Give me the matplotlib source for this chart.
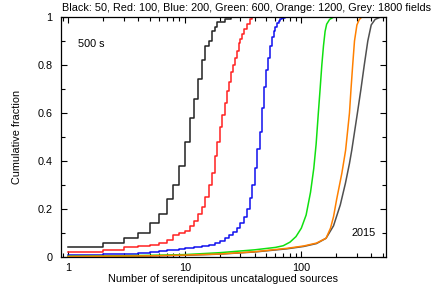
import matplotlib
matplotlib.use('Agg')
from matplotlib import pyplot as plt
from matplotlib.ticker import FixedLocator, LogLocator, NullFormatter

plt.rcParams['font.family'] = ['Liberation Sans', 'DejaVu Sans']

# cumulative fraction vs number of serendipitous sources
black_n = [1, 2, 3, 4, 5, 6, 7, 8, 9, 10, 11, 12, 13, 14, 15, 16, 17, 18, 19, 22, 25]
black_f = [0.04, 0.06, 0.08, 0.10, 0.14, 0.18, 0.24, 0.30, 0.38, 0.48, 0.58, 0.66,
           0.74, 0.82, 0.88, 0.90, 0.94, 0.96, 0.98, 0.99, 1.0]

red_n = [1, 2, 3, 4, 5, 6, 7, 8, 9, 10, 11, 12, 13, 14, 15, 16, 17, 18, 19, 20,
         21, 22, 23, 24, 25, 26, 27, 28, 29, 30, 31, 32, 34, 36, 38]
red_f = [0.02, 0.03, 0.04, 0.045, 0.05, 0.06, 0.07, 0.09, 0.10, 0.11, 0.13, 0.15,
         0.18, 0.21, 0.25, 0.30, 0.35, 0.42, 0.48, 0.54, 0.59, 0.64, 0.69, 0.73,
         0.77, 0.80, 0.83, 0.86, 0.89, 0.91, 0.93, 0.95, 0.97, 0.99, 1.0]

blue_n = [1, 2, 3, 4, 5, 6, 7, 8, 9, 10, 12, 14, 16, 18, 20, 22, 24, 26, 28, 30,
          32, 34, 36, 38, 40, 42, 44, 46, 48, 50, 52, 54, 56, 58, 60, 62, 64, 66, 68, 72]
blue_f = [0.010, 0.012, 0.014, 0.018, 0.022, 0.025, 0.028, 0.030, 0.033, 0.036,
          0.040, 0.045, 0.052, 0.060, 0.068, 0.080, 0.092, 0.105, 0.122, 0.140,
          0.165, 0.20, 0.245, 0.30, 0.37, 0.45, 0.52, 0.62, 0.71, 0.78, 0.83,
          0.88, 0.915, 0.94, 0.96, 0.975, 0.985, 0.992, 0.997, 1.0]

green_n = [1, 2, 5, 10, 20, 40, 60, 70, 80, 90, 100, 110, 120, 128, 134, 140, 145,
           150, 155, 160, 165, 175, 190]
green_f = [0.003, 0.004, 0.007, 0.010, 0.018, 0.030, 0.040, 0.047, 0.062, 0.085,
           0.12, 0.175, 0.27, 0.37, 0.47, 0.60, 0.70, 0.80, 0.88, 0.94, 0.97, 0.99, 1.0]

orange_n = [1, 5, 10, 20, 40, 75, 105, 135, 163, 178, 189, 201, 223, 240, 259,
            267, 276, 286, 300, 315, 331]
orange_f = [0.002, 0.005, 0.008, 0.0125, 0.022, 0.036, 0.046, 0.058, 0.078, 0.12,
            0.168, 0.24, 0.35, 0.445, 0.60, 0.70, 0.80, 0.90, 0.967, 0.99, 1.0]

grey_n = [1, 5, 10, 20, 40, 75, 105, 135, 163, 189, 216, 239, 259, 271, 303, 325,
          347, 372, 398, 430, 480]
grey_f = [0.002, 0.004, 0.007, 0.012, 0.021, 0.034, 0.044, 0.056, 0.078, 0.13,
          0.217, 0.307, 0.39, 0.445, 0.60, 0.70, 0.80, 0.90, 0.967, 0.99, 1.0]

title = 'Black: 50, Red: 100, Blue: 200, Green: 600, Orange: 1200, Grey: 1800 fields'
fs = 7.8

fig = plt.figure(figsize=(4.42, 2.85), dpi=100)
ax = fig.add_axes([61/442, 28/285, 325/442, 240/285])

lw = 1.1
ax.step(black_n, black_f, where='post', color='#222222', lw=lw)
ax.step(red_n, red_f, where='post', color='#ff2020', lw=lw)
ax.step(blue_n, blue_f, where='post', color='#1010ee', lw=lw)
ax.plot(grey_n, grey_f, color='#505050', lw=lw)
ax.plot(green_n, green_f, color='#10e010', lw=lw)
ax.plot(orange_n, orange_f, color='#ff8000', lw=lw)

ax.set_xscale('log')
ax.set_xlim(0.867, 533)
ax.set_ylim(0, 1)

ax.xaxis.set_major_locator(FixedLocator([1, 10, 100]))
ax.set_xticklabels(['1', '10', '100'])
ax.xaxis.set_minor_locator(LogLocator(base=10, subs=range(2, 10)))
ax.xaxis.set_minor_formatter(NullFormatter())
ax.set_yticks([0, 0.2, 0.4, 0.6, 0.8, 1.0])
ax.set_yticklabels(['0', '0.2', '0.4', '0.6', '0.8', '1'])
ax.set_yticks([0.1, 0.3, 0.5, 0.7, 0.9], minor=True)

ax.tick_params(which='both', direction='in', top=True, right=True,
               labelsize=fs, width=0.8)
ax.tick_params(axis='y', pad=6)
ax.tick_params(axis='x', pad=4)
ax.tick_params(which='major', length=4)
ax.tick_params(which='minor', length=3)
for s in ax.spines.values():
    s.set_linewidth(0.9)

ax.set_xlabel('Number of serendipitous uncatalogued sources', fontsize=fs, labelpad=1)
ax.set_ylabel('Cumulative fraction', fontsize=fs, labelpad=11)

ax.text(78/442, 1 - 44/285, '500 s', transform=fig.transFigure, fontsize=fs,
        va='center', ha='left')
ax.text(376/442, 1 - 233/285, '2015', transform=fig.transFigure, fontsize=fs,
        va='center', ha='right')
fig.text(62/442, 1 - 8/285, title, fontsize=fs, va='center', ha='left')

fig.savefig('out.png', dpi=100)
